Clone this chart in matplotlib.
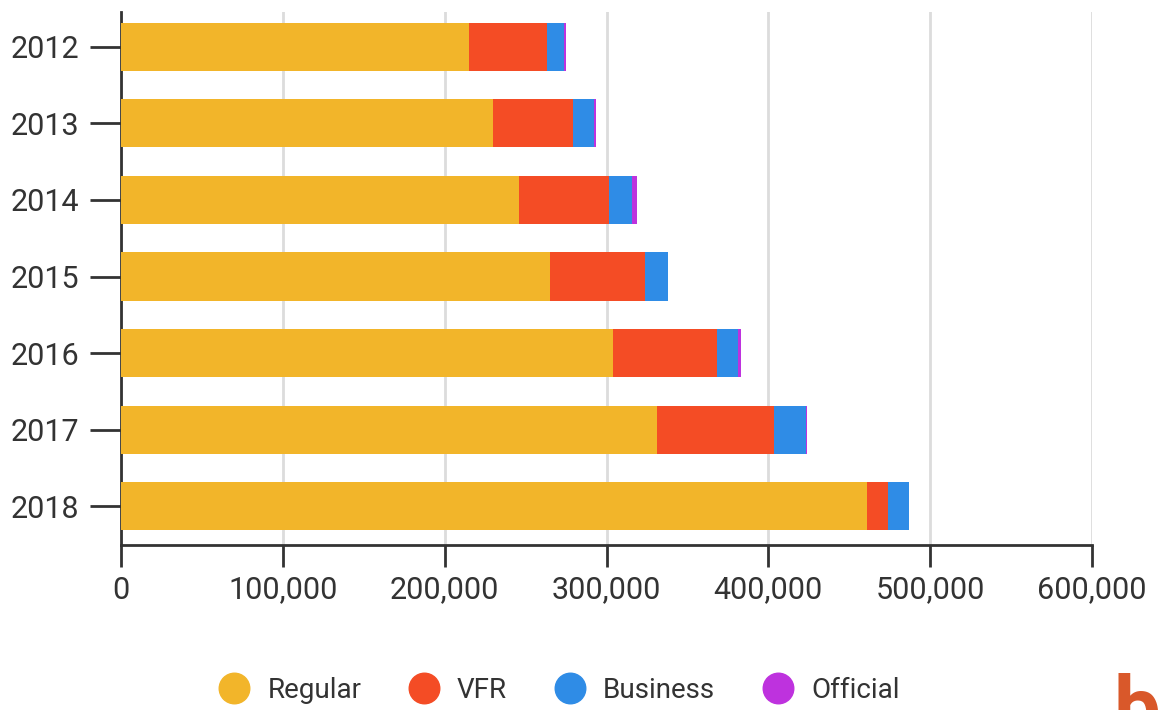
import numpy as np
import matplotlib.pyplot as plt
from matplotlib.lines import Line2D

plt.rcParams['font.family'] = ['Roboto', 'DejaVu Sans']

years = ['2012', '2013', '2014', '2015', '2016', '2017', '2018']
regular = [215000, 230000, 246000, 265000, 304000, 331000, 461000]
vfr = [48000, 49000, 55500, 58500, 64500, 72500, 13000]
business = [10500, 13000, 14300, 14400, 13000, 19500, 12800]
official = [1700, 1300, 3000, 300, 1700, 1000, 0]

series = [('Regular', regular, '#F2B52A'),
          ('VFR', vfr, '#F44C25'),
          ('Business', business, '#2F8CE6'),
          ('Official', official, '#BE32DE')]

fig = plt.figure(figsize=(11.59, 7.10), dpi=100)
ax = fig.add_axes([0.1044, 0.2324, 0.8378, 0.7507])

y = np.arange(len(years))
left = np.zeros(len(years))
for name, vals, col in series:
    ax.barh(y, vals, left=left, height=0.63, color=col, zorder=3)
    left += np.array(vals)

ax.set_xlim(0, 600000)
ax.set_ylim(6.505, -0.453)
ax.set_yticks(y)
ax.set_yticklabels(years)
ax.set_xticks(range(0, 600001, 100000))
ax.set_xticklabels(['0', '100,000', '200,000', '300,000', '400,000', '500,000', '600,000'])

ax.grid(axis='x', color='#dcdcdc', linewidth=2, zorder=0)
for s in ['top', 'right']:
    ax.spines[s].set_visible(False)
for s in ['left', 'bottom']:
    ax.spines[s].set_color('#333333')
    ax.spines[s].set_linewidth(2)

ax.tick_params(axis='y', length=22, width=2, color='#333333', pad=8,
               labelsize=22, labelcolor='#333333')
ax.tick_params(axis='x', length=16, width=2, color='#333333', pad=6,
               labelsize=22, labelcolor='#333333')

handles = [Line2D([], [], marker='o', linestyle='', markersize=22,
                  markerfacecolor=col, markeredgecolor=col, label=name)
           for name, vals, col in series]
fig.legend(handles=handles, loc='center', bbox_to_anchor=(0.477, 0.028),
           ncol=4, frameon=False, fontsize=20, columnspacing=1.25,
           handletextpad=0.2, labelcolor='#333333')

# corner logo
fig.text(0.961, -0.035, 'b', fontsize=60, fontweight='bold', color='#D9582A')

fig.savefig('out.png', dpi=100)
